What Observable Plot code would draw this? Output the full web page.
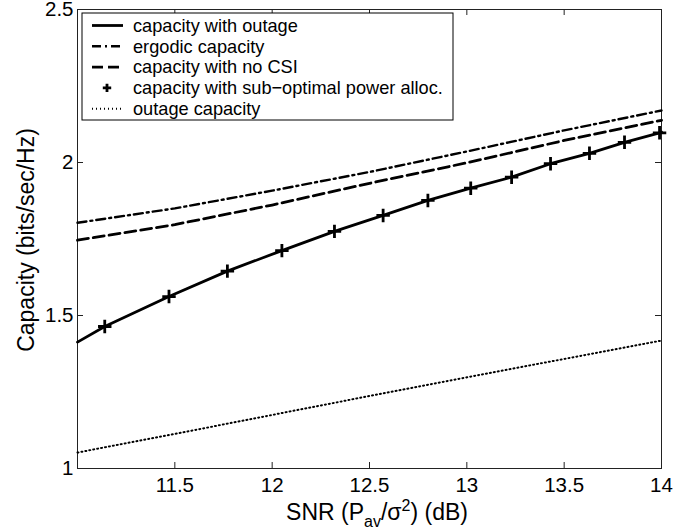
<!DOCTYPE html>
<html>
<head>
<meta charset="utf-8">
<script src="https://cdn.jsdelivr.net/npm/d3@7"></script>
<script src="https://cdn.jsdelivr.net/npm/@observablehq/plot@0.6"></script>
<style>
  html, body { margin: 0; padding: 0; background: #fff; }
  svg { font-family: "Liberation Sans", Arial, Helvetica, sans-serif; }
</style>
</head>
<body>
<div id="chart"></div>
<script>
// ---- data ----
const xTicks = [11.5, 12, 12.5, 13, 13.5, 14];
const yTicks = [1, 1.5, 2, 2.5];

// capacity with outage (solid)
const outageSnr = [11.0, 11.14, 11.47, 11.77, 12.05, 12.32, 12.57, 12.80, 13.02, 13.23, 13.43, 13.63, 13.81, 13.99, 14.0];
const outageCap = [1.413, 1.464, 1.562, 1.645, 1.712, 1.775, 1.827, 1.876, 1.916, 1.952, 1.996, 2.030, 2.066, 2.097, 2.100];

// capacity with sub-optimal power allocation (+ markers)
const subSnr = [11.14, 11.47, 11.77, 12.05, 12.32, 12.57, 12.80, 13.02, 13.23, 13.43, 13.63, 13.81, 13.99];
const subCap = [1.464, 1.562, 1.645, 1.712, 1.775, 1.827, 1.876, 1.916, 1.952, 1.996, 2.030, 2.066, 2.097];

// ergodic capacity (dash-dot), capacity with no CSI (dashed), outage capacity (dotted)
const gridSnr = [11.0, 11.5, 12.0, 12.5, 13.0, 13.5, 14.0];
const ergodicCap = [1.803, 1.850, 1.908, 1.969, 2.036, 2.105, 2.170];
const noCsiCap = [1.746, 1.797, 1.861, 1.932, 1.999, 2.072, 2.138];
const outCapacity = [1.052, 1.113, 1.175, 1.237, 1.298, 1.358, 1.418];

const legendLabels = [
  "capacity with outage",
  "ergodic capacity",
  "capacity with no CSI",
  "capacity with sub\u2212optimal power alloc.",
  "outage capacity"
];

// ---- tables ----
const solid = outageSnr.map((x, i) => ({x, y: outageCap[i]}));
const subs = subSnr.map((x, i) => ({x, y: subCap[i]}));
const erg = gridSnr.map((x, i) => ({x, y: ergodicCap[i]}));
const nocsi = gridSnr.map((x, i) => ({x, y: noCsiCap[i]}));
const outc = gridSnr.map((x, i) => ({x, y: outCapacity[i]}));

const W = 698, H = 529, ML = 77, MR = 37, MT = 9, MB = 61;
const PW = W - ML - MR, PH = H - MT - MB;
const TICK = 6, FS = 20.5;
const DASHDOT = "9,4,2,4", DASHED = "11,5", DOTTED = "1,3";
const plot = Plot.plot({
  width: W,
  height: H,
  marginLeft: ML,
  marginRight: MR,
  marginTop: MT,
  marginBottom: MB,
  style: {fontFamily: '"Liberation Sans", Arial, sans-serif', background: "#fff", color: "#000"},
  x: {domain: [11, 14]},
  y: {domain: [1, 2.5]},
  marks: [
    Plot.frame({stroke: "#222", strokeWidth: 1}),
    // tick labels
    Plot.axisX(xTicks, {anchor: "bottom", tickSize: 0, tickPadding: 9, fontSize: FS, label: null, tickFormat: d => String(d)}),
    Plot.axisY(yTicks, {anchor: "left", tickSize: 0, tickPadding: 4, fontSize: FS, label: null, tickFormat: d => String(d)}),
    // inward ticks on all four sides
    Plot.tickX(xTicks, {x: d => d, insetTop: PH - TICK, stroke: "#222"}),
    Plot.tickX(xTicks, {x: d => d, insetBottom: PH - TICK, stroke: "#222"}),
    Plot.tickY(yTicks, {y: d => d, insetRight: PW - TICK, stroke: "#222"}),
    Plot.tickY(yTicks, {y: d => d, insetLeft: PW - TICK, stroke: "#222"}),
    // series
    Plot.line(outc, {x: "x", y: "y", stroke: "#000", strokeWidth: 2, strokeDasharray: DOTTED}),
    Plot.line(nocsi, {x: "x", y: "y", stroke: "#000", strokeWidth: 2.8, strokeDasharray: DASHED}),
    Plot.line(erg, {x: "x", y: "y", stroke: "#000", strokeWidth: 2.4, strokeDasharray: DASHDOT}),
    Plot.line(solid, {x: "x", y: "y", stroke: "#000", strokeWidth: 2.8}),
    Plot.dot(subs, {x: "x", y: "y", symbol: "plus", r: 4.4, stroke: "#000", strokeWidth: 2.8})
  ]
});
document.getElementById("chart").appendChild(plot);

// ---- axis titles & legend ----
const svg = d3.select(plot);
const font = '"Liberation Sans", Arial, sans-serif';

// y label
svg.append("text")
  .attr("transform", "translate(34,240) rotate(-90)")
  .attr("text-anchor", "middle")
  .style("font-family", font).style("font-size", "23px").attr("fill", "#000")
  .text("Capacity (bits/sec/Hz)");

// x label with subscript / superscript
const xl = svg.append("text")
  .attr("x", 377).attr("y", 520)
  .attr("text-anchor", "middle")
  .style("font-family", font).style("font-size", "23px").attr("fill", "#000");
xl.append("tspan").text("SNR (P");
xl.append("tspan").attr("dy", 7).style("font-size", "16px").text("av");
xl.append("tspan").attr("dy", -7).text("/\u03c3");
xl.append("tspan").attr("dy", -9).style("font-size", "16px").text("2");
xl.append("tspan").attr("dy", 9).text(") (dB)");

// legend box
const lg = svg.append("g");
const bx = 82, by = 13, bw = 371, bh = 107;
lg.append("rect").attr("x", bx).attr("y", by).attr("width", bw).attr("height", bh)
  .attr("fill", "#fff").attr("stroke", "#000").attr("stroke-width", 1);
const rowY = i => by + 12.5 + i * 20.8;
const styles = [
  {w: 2.8, dash: null},
  {w: 2.4, dash: DASHDOT},
  {w: 2.8, dash: DASHED},
  {marker: true},
  {w: 2, dash: DOTTED}
];
legendLabels.forEach((lab, i) => {
  const y = rowY(i);
  const s = styles[i];
  if (s.marker) {
    lg.append("path").attr("d", `M${107 - 4.2},${y}H${107 + 4.2}M107,${y - 4.2}V${y + 4.2}`)
      .attr("stroke", "#000").attr("stroke-width", 2.8).attr("fill", "none");
  } else {
    const ln = lg.append("line").attr("x1", 92).attr("x2", 123).attr("y1", y).attr("y2", y)
      .attr("stroke", "#000").attr("stroke-width", s.w);
    if (s.dash) ln.attr("stroke-dasharray", s.dash);
  }
  lg.append("text").attr("x", 133).attr("y", y).attr("dy", "0.35em")
    .attr("text-anchor", "start")
    .style("font-family", font).style("font-size", "18.2px").attr("fill", "#000")
    .text(lab);
});
</script>
</body>
</html>
